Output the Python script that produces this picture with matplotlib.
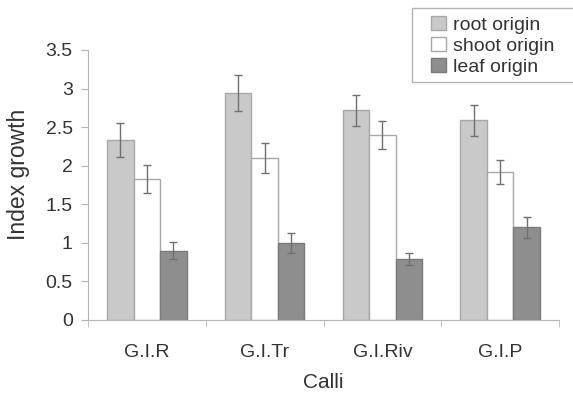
import numpy as np
import matplotlib.pyplot as plt
from matplotlib.patches import Rectangle

plt.rcParams['font.family'] = ['Liberation Sans', 'DejaVu Sans']

calli = ["G.I.R", "G.I.Tr", "G.I.Riv", "G.I.P"]
root = [2.33, 2.94, 2.72, 2.59]
root_err = [0.22, 0.23, 0.2, 0.2]
shoot = [1.83, 2.1, 2.4, 1.92]
shoot_err = [0.18, 0.19, 0.18, 0.16]
leaf = [0.9, 1.0, 0.79, 1.2]
leaf_err = [0.11, 0.13, 0.08, 0.14]

txt = '#333333'
grey = '#b4b4b4'

fig = plt.figure(figsize=(5.73, 3.97), dpi=100)
ax = fig.add_axes([88/573, 1 - 320/397, 471/573, 270/397])

x = np.arange(len(calli))
w = 0.225
err_kw = dict(ecolor='#707070', elinewidth=1, capsize=3, capthick=1)
ax.bar(x - w, root, w, yerr=root_err, color='#c9c9c9', edgecolor='#a8a8a8',
       lw=1, error_kw=err_kw, label='root origin')
ax.bar(x, shoot, w, yerr=shoot_err, color='white', edgecolor='#a8a8a8',
       lw=1, error_kw=err_kw, label='shoot origin')
ax.bar(x + w, leaf, w, yerr=leaf_err, color='#8e8e8e', edgecolor='#7a7a7a',
       lw=1, error_kw=err_kw, label='leaf origin')

ax.set_xlim(-0.5, len(calli) - 0.5)
ax.set_ylim(0, 3.5)
ax.set_yticks(np.arange(0, 3.51, 0.5))
ax.set_yticklabels(['0', '0.5', '1', '1.5', '2', '2.5', '3', '3.5'])
ax.set_xticks(x)
ax.set_xticklabels(calli)
ax.set_xticks(np.arange(-0.5, len(calli)), minor=True)
ax.tick_params(axis='x', which='major', length=0, pad=17, labelsize=14, labelcolor=txt)
ax.tick_params(axis='x', which='minor', length=5, color=grey)
ax.tick_params(axis='y', length=5, color=grey, labelsize=14, labelcolor=txt, pad=6)

for s in ['top', 'right']:
    ax.spines[s].set_visible(False)
for s in ['left', 'bottom']:
    ax.spines[s].set_color(grey)

ax.set_xlabel('Calli', fontsize=15, color=txt, labelpad=9)
ax.set_ylabel('Index growth', fontsize=16.5, color=txt)
ax.yaxis.set_label_coords(-0.123, 0.54)

# legend box runs off the right edge of the figure
fig.patches.append(Rectangle((412/573, 1 - 82/397), 0.3, 74/397, fill=False,
                             ec=grey, lw=1, transform=fig.transFigure))
fig.legend(loc='upper left', bbox_to_anchor=(431/573, 1 - 16/397),
           borderaxespad=0, borderpad=0, fontsize=14, frameon=False,
           handlelength=0.75, handleheight=0.75, handletextpad=0.4,
           labelspacing=0.15, labelcolor=txt)

fig.savefig('out.png', dpi=100)
